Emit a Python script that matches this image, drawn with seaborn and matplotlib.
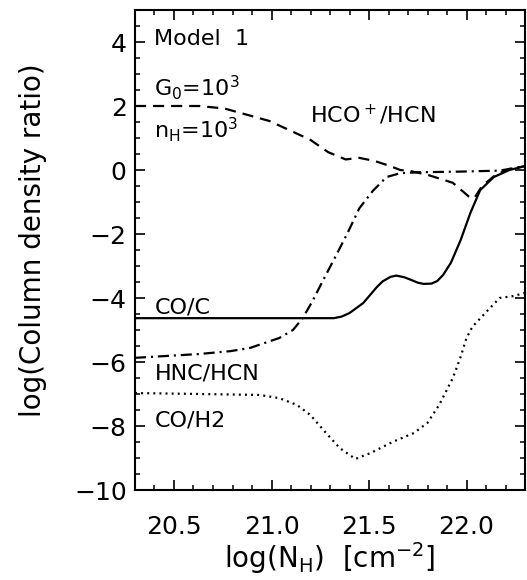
import matplotlib
matplotlib.use("Agg")
import matplotlib.pyplot as plt
from matplotlib.ticker import MultipleLocator, FormatStrFormatter
import numpy as np
import pandas as pd
import seaborn as sns

# log(N_H) samples and column density ratios for each molecular pair
hco_x = [20.30, 20.63, 20.76, 20.89, 20.99, 21.09, 21.20, 21.29, 21.38, 21.45,
         21.53, 21.61, 21.66, 21.71, 21.80, 21.93, 22.01, 22.04, 22.08, 22.15,
         22.22, 22.30]
hco_y = [2.00, 2.00, 1.92, 1.70, 1.53, 1.25, 0.94, 0.56, 0.33, 0.38,
         0.28, 0.12, 0.00, -0.03, -0.15, -0.40, -0.82, -0.88, -0.50, -0.15,
         0.03, 0.12]

hnc_x = [20.30, 20.63, 20.79, 20.89, 21.04, 21.11, 21.16, 21.21, 21.26, 21.32,
         21.39, 21.45, 21.52, 21.59, 21.66, 21.76, 21.97, 22.17, 22.30]
hnc_y = [-5.87, -5.75, -5.66, -5.56, -5.25, -5.00, -4.63, -4.10, -3.50, -2.80,
         -1.97, -1.20, -0.65, -0.22, -0.10, -0.07, -0.05, -0.02, 0.12]

coc_x = [20.30, 21.32, 21.36, 21.40, 21.47, 21.54, 21.57, 21.61, 21.64, 21.68,
         21.71, 21.75, 21.78, 21.82, 21.85, 21.88, 21.92, 21.97, 22.02, 22.07,
         22.14, 22.22, 22.30]
coc_y = [-4.63, -4.63, -4.58, -4.47, -4.16, -3.66, -3.48, -3.34, -3.30, -3.35,
         -3.42, -3.52, -3.56, -3.55, -3.47, -3.28, -2.90, -2.19, -1.34, -0.63,
         -0.22, 0.00, 0.12]

coh2_x = [20.30, 20.63, 20.94, 21.04, 21.13, 21.20, 21.28, 21.35, 21.43, 21.51,
          21.62, 21.73, 21.80, 21.86, 21.93, 21.97, 22.00, 22.03, 22.11, 22.17,
          22.24, 22.30]
coh2_y = [-6.97, -7.00, -7.03, -7.13, -7.34, -7.66, -8.22, -8.69, -9.03, -8.84,
          -8.50, -8.22, -7.90, -7.34, -6.50, -5.84, -5.25, -4.90, -4.38, -4.00,
          -3.94, -3.84]

x_ticks = [20.5, 21.0, 21.5, 22.0]
y_ticks = [-10, -8, -6, -4, -2, 0, 2, 4]

sns.set_theme(style="ticks")
plt.rcParams.update({
    "font.family": ["DejaVu Sans"],
    "mathtext.fontset": "dejavusans",
    "lines.scale_dashes": False,
    "axes.linewidth": 1.5,
    "xtick.direction": "in",
    "ytick.direction": "in",
    "xtick.top": True,
    "ytick.right": True,
    "xtick.major.size": 7.5,
    "ytick.major.size": 7.5,
    "xtick.minor.size": 3.8,
    "ytick.minor.size": 3.8,
    "xtick.major.width": 1.2,
    "ytick.major.width": 1.2,
    "xtick.minor.width": 1.1,
    "ytick.minor.width": 1.1,
    "xtick.color": "black",
    "ytick.color": "black",
    "xtick.labelcolor": "black",
    "ytick.labelcolor": "black",
    "axes.edgecolor": "black",
    "axes.labelcolor": "black",
    "text.color": "black",
})

fig = plt.figure(figsize=(5.27, 5.8), dpi=100)
ax = fig.add_axes([135 / 527, 90 / 580, 390 / 527, 480 / 580])

lw = 1.6
series = [
    (hco_x, hco_y, (0, (8, 5))),
    (hnc_x, hnc_y, (0, (8, 3.5, 1.5, 3.5))),
    (coc_x, coc_y, "-"),
    (coh2_x, coh2_y, (0, (1.4, 3.0))),
]
for xs, ys, ls in series:
    df = pd.DataFrame({"logNH": xs, "ratio": ys})
    sns.lineplot(data=df, x="logNH", y="ratio", ax=ax, color="black",
                 linewidth=lw, linestyle=ls, estimator=None, sort=False)

ax.set_xlim(20.3, 22.3)
ax.set_ylim(-10, 5)
ax.set_xticks(x_ticks)
ax.set_yticks(y_ticks)
ax.xaxis.set_major_formatter(FormatStrFormatter("%.1f"))
ax.xaxis.set_minor_locator(MultipleLocator(0.1))
ax.yaxis.set_minor_locator(MultipleLocator(0.5))
ax.tick_params(axis="x", which="both", labelsize=18, pad=18)
ax.tick_params(axis="y", which="both", labelsize=18, pad=6)

ax.set_xlabel(r"log(N$_\mathrm{H}$)  [cm$^{-2}$]", fontsize=20, labelpad=1)
ax.set_ylabel("log(Column density ratio)", fontsize=20, labelpad=19)
ax.yaxis.set_label_coords(-0.225, 0.52)

fs = 16
ax.text(20.40, 3.90, "Model  1", fontsize=fs, va="baseline")
ax.text(20.40, 2.34, r"G$_0$=10$^3$", fontsize=fs, va="baseline")
ax.text(20.40, 1.00, r"n$_\mathrm{H}$=10$^3$", fontsize=fs, va="baseline")
ax.text(21.20, 1.47, r"HCO$^+$/HCN", fontsize=fs, va="baseline")
ax.text(20.40, -4.47, "CO/C", fontsize=fs, va="baseline")
ax.text(20.40, -6.56, "HNC/HCN", fontsize=fs, va="baseline")
ax.text(20.40, -8.03, "CO/H2", fontsize=fs, va="baseline")

fig.savefig("out.png", dpi=100)
